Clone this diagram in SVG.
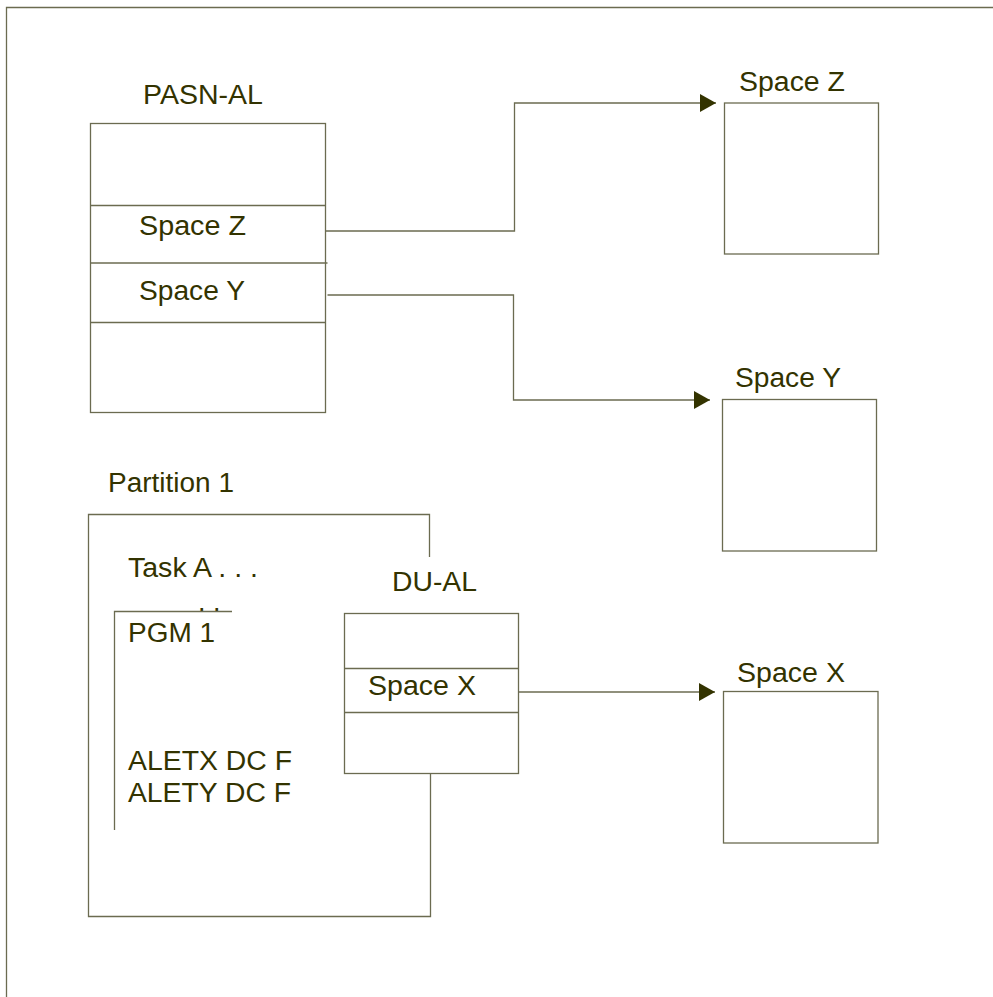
<svg xmlns="http://www.w3.org/2000/svg" width="993" height="997" viewBox="0 0 993 997">
<style>
.ln{fill:none;stroke:#6b6b50;stroke-width:1.3}
.bx{fill:#ffffff;stroke:#6b6b50;stroke-width:1.3}
.t{font-family:"Liberation Sans",Arial,sans-serif;font-size:27px;fill:#333300}
</style>
<defs>
<marker id="arr" markerWidth="16" markerHeight="18" refX="16" refY="9" orient="auto" markerUnits="userSpaceOnUse">
<path d="M0,0 L16,9 L0,18 Z" fill="#333300"/>
</marker>
</defs>
<rect width="993" height="997" fill="#ffffff"/>
<g id="frame">
<path class="ln" d="M6.5,997 V7.5 H993"/>
</g>
<g id="pasn-al">
<text class="t" x="143" y="104" textLength="120" lengthAdjust="spacingAndGlyphs">PASN-AL</text>
<rect class="bx" x="90.5" y="123.5" width="235" height="289"/>
<line class="ln" x1="90.5" y1="205.5" x2="325.5" y2="205.5"/>
<line class="ln" x1="90.5" y1="263" x2="327.5" y2="263"/>
<line class="ln" x1="90.5" y1="322.5" x2="325.5" y2="322.5"/>
<text class="t" x="139" y="235" textLength="107" lengthAdjust="spacingAndGlyphs">Space Z</text>
<text class="t" x="139" y="300" textLength="106" lengthAdjust="spacingAndGlyphs">Space Y</text>
</g>
<g id="space-z">
<text class="t" x="739" y="91" textLength="106" lengthAdjust="spacingAndGlyphs">Space Z</text>
<rect class="bx" x="724.5" y="103" width="154" height="151"/>
</g>
<g id="space-y">
<text class="t" x="735" y="387" textLength="106" lengthAdjust="spacingAndGlyphs">Space Y</text>
<rect class="bx" x="722.5" y="399.5" width="154" height="151.5"/>
</g>
<g id="partition-1">
<text class="t" x="108" y="492" textLength="126" lengthAdjust="spacingAndGlyphs">Partition 1</text>
<path class="ln" d="M429.5,557 V514.5 H88.5 V916.5 H430.5 V772"/>
<text class="t" x="128" y="577" textLength="130" lengthAdjust="spacingAndGlyphs">Task A . . .</text>
<text class="t" x="198" y="611">. .</text>
</g>
<g id="pgm-1">
<path class="ln" d="M114.5,830 V611.5 H232"/>
<text class="t" x="128" y="642" textLength="87" lengthAdjust="spacingAndGlyphs">PGM 1</text>
<text class="t" x="128" y="770" textLength="164" lengthAdjust="spacingAndGlyphs">ALETX DC F</text>
<text class="t" x="128" y="802" textLength="163" lengthAdjust="spacingAndGlyphs">ALETY DC F</text>
</g>
<g id="du-al">
<text class="t" x="392" y="591" textLength="85" lengthAdjust="spacingAndGlyphs">DU-AL</text>
<rect class="bx" x="344.5" y="613.5" width="174" height="160"/>
<line class="ln" x1="344.5" y1="668.5" x2="518.5" y2="668.5"/>
<line class="ln" x1="344.5" y1="712.5" x2="518.5" y2="712.5"/>
<text class="t" x="368" y="695" textLength="108" lengthAdjust="spacingAndGlyphs">Space X</text>
</g>
<g id="space-x">
<text class="t" x="737" y="682" textLength="108" lengthAdjust="spacingAndGlyphs">Space X</text>
<rect class="bx" x="723.5" y="691.5" width="154.5" height="151.5"/>
</g>
<g id="connectors">
<path class="ln" d="M325.5,231 H514.5 V103 H716" marker-end="url(#arr)"/>
<path class="ln" d="M327.5,295 H513.5 V400 H710" marker-end="url(#arr)"/>
<path class="ln" d="M518.5,692 H715" marker-end="url(#arr)"/>
</g>
</svg>
